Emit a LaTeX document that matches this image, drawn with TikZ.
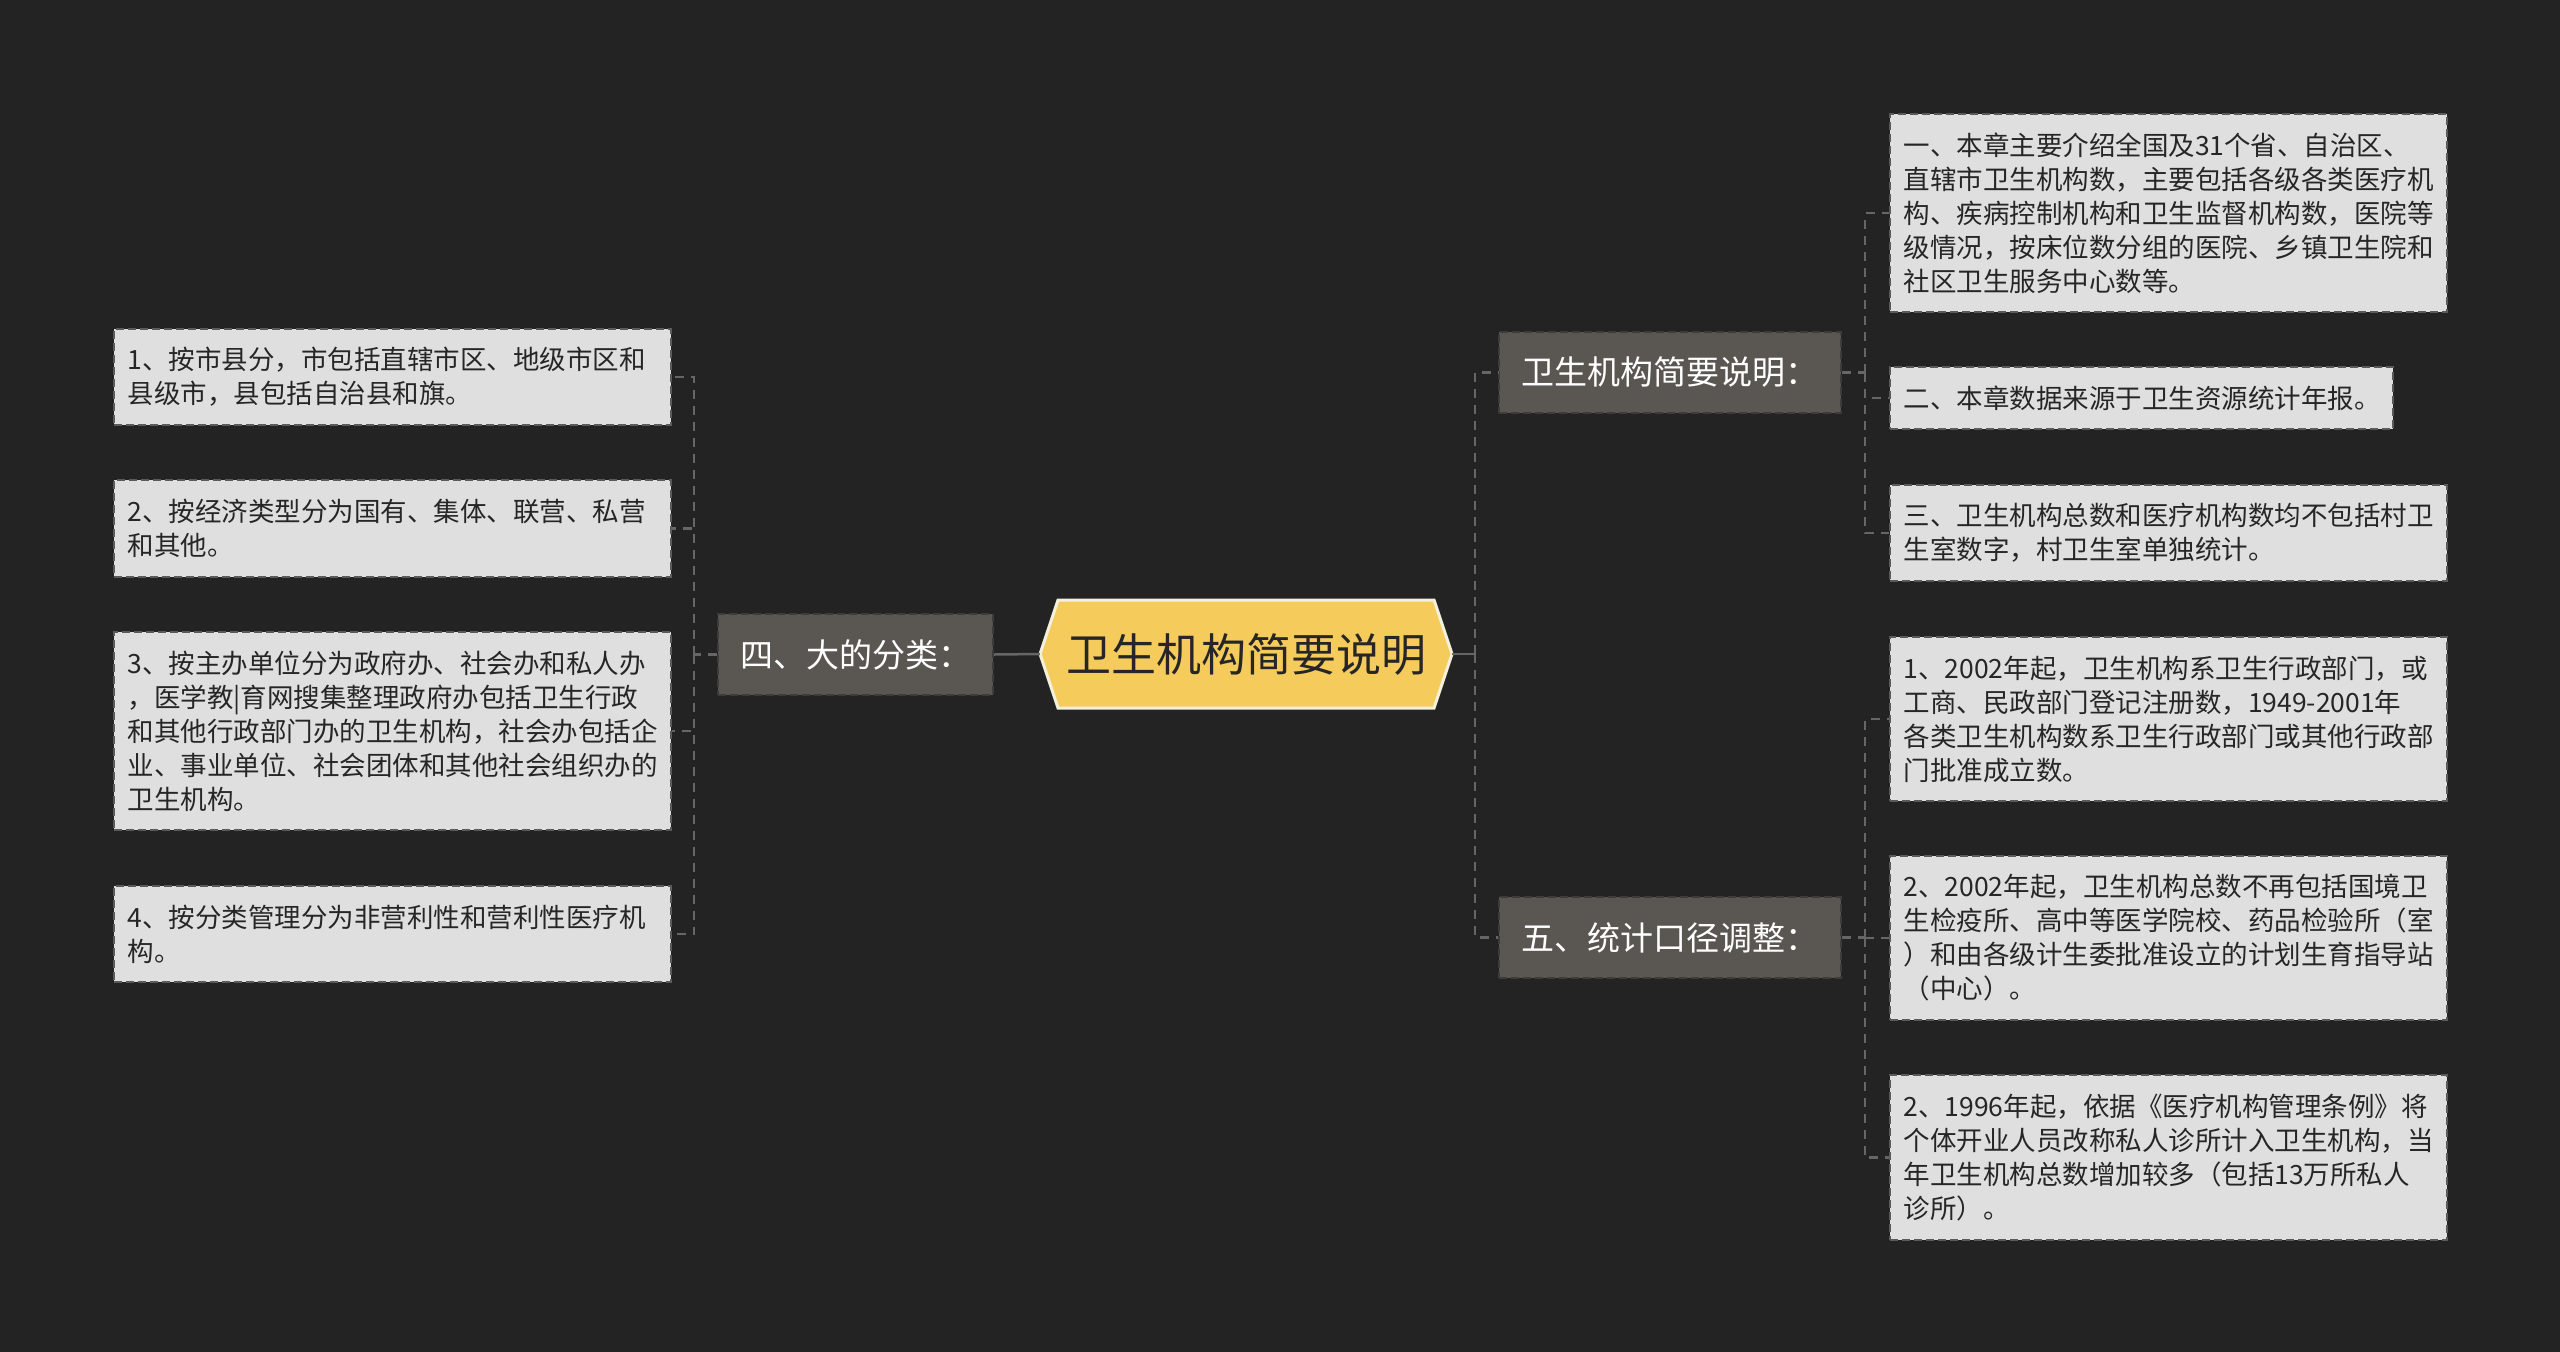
\documentclass[tikz,border=0pt]{standalone}
\usepackage{fontspec}
\newfontfamily\cjk{Noto Sans CJK SC}
\begin{document}
\begin{tikzpicture}[x=1pt,y=-1pt,
  leaf/.style={draw=leafline,fill=leaffill,line width=2pt,dash pattern=on 8pt off 4pt,
    anchor=north west,align=left,text width=530pt,inner xsep=13.5pt,inner ysep=0pt,
    text=black!85,font=\cjk\fontsize{26.5}{34}\selectfont},
  mid/.style={draw=midline,fill=midfill,line width=2pt,dash pattern=on 8pt off 4pt,
    minimum height=81pt,inner sep=0pt,text=white,font=\cjk\fontsize{33}{40}\selectfont},
  root/.style={minimum width=412pt,minimum height=108pt,inner sep=0pt,
    text=black!85,font=\cjk\fontsize{45}{50}\selectfont},
  link/.style={draw=linkgray,line width=2.5pt},
  branch/.style={link,dash pattern=on 9pt off 7pt}]
\definecolor{bgfill}{RGB}{35,35,35}
\definecolor{rootfill}{RGB}{245,203,92}
\definecolor{rootline}{RGB}{243,240,220}
\definecolor{midfill}{RGB}{90,86,82}
\definecolor{midline}{RGB}{62,60,58}
\definecolor{leaffill}{RGB}{223,223,223}
\definecolor{leafline}{RGB}{90,90,90}
\definecolor{linkgray}{RGB}{102,102,102}
\fill[bgfill] (0,0) rectangle (2560,1352);
% centre
\draw[fill=rootfill,draw=rootline,line width=3pt,shift={(1246,654)}]
  (-188,-54) -- (188,-54) -- (206,0) -- (188,54) -- (-188,54) -- (-206,0) -- cycle;
\node[root] (root) at (1246,654) {卫生机构简要说明};
% second level
\node[mid,minimum width=275pt] (kind) at (855.5,654.5) {四、大的分类：};
\node[mid,minimum width=342pt] (brief) at (1670,372.5) {卫生机构简要说明：};
\node[mid,minimum width=342pt] (adjust) at (1670,937.5) {五、统计口径调整：};
% left leaves
\node[leaf,minimum height=96pt] (c1) at (113,328) {1、按市县分，市包括直辖市区、地级市区和\\县级市，县包括自治县和旗。};
\node[leaf,minimum height=97pt] (c2) at (113,479) {2、按经济类型分为国有、集体、联营、私营\\和其他。};
\node[leaf,minimum height=198pt] (c3) at (113,631) {3、按主办单位分为政府办、社会办和私人办\\，医学教|育网搜集整理政府办包括卫生行政\\和其他行政部门办的卫生机构，社会办包括企\\业、事业单位、社会团体和其他社会组织办的\\卫生机构。};
\node[leaf,minimum height=96pt] (c4) at (113,885) {4、按分类管理分为非营利性和营利性医疗机\\构。};
% right leaves
\node[leaf,minimum height=198pt] (b1) at (1889,113) {一、本章主要介绍全国及31个省、自治区、\\直辖市卫生机构数，主要包括各级各类医疗机\\构、疾病控制机构和卫生监督机构数，医院等\\级情况，按床位数分组的医院、乡镇卫生院和\\社区卫生服务中心数等。};
\node[leaf,minimum height=62pt,text width=476pt] (b2) at (1889,366) {二、本章数据来源于卫生资源统计年报。};
\node[leaf,minimum height=96pt] (b3) at (1889,484) {三、卫生机构总数和医疗机构数均不包括村卫\\生室数字，村卫生室单独统计。};
\node[leaf,minimum height=164pt] (a1) at (1889,636) {1、2002年起，卫生机构系卫生行政部门，或\\工商、民政部门登记注册数，1949-2001年\\各类卫生机构数系卫生行政部门或其他行政部\\门批准成立数。};
\node[leaf,minimum height=164pt] (a2) at (1889,855) {2、2002年起，卫生机构总数不再包括国境卫\\生检疫所、高中等医学院校、药品检验所（室\\）和由各级计生委批准设立的计划生育指导站\\（中心）。};
\node[leaf,minimum height=165pt] (a3) at (1889,1074) {2、1996年起，依据《医疗机构管理条例》将\\个体开业人员改称私人诊所计入卫生机构，当\\年卫生机构总数增加较多（包括13万所私人\\诊所）。};
% connectors
\coordinate (lhub) at ([xshift=-23pt]kind.west);
\coordinate (rhub) at ([xshift=23pt]root.east);
\coordinate (bhub) at ([xshift=23pt]brief.east);
\coordinate (ahub) at ([xshift=23pt]adjust.east);
\draw[link] (root.west) -- (kind.east);
\draw[link] (root.east) -- (rhub);
\draw[branch] (kind.west) -- (lhub);
\foreach \n in {c1,c2,c3,c4} \draw[branch] (lhub) |- (\n.east);
\draw[branch] (rhub) |- (brief.west);
\draw[branch] (rhub) |- (adjust.west);
\draw[branch] (brief.east) -- (bhub);
\foreach \n in {b1,b2,b3} \draw[branch] (bhub) |- (\n.west);
\draw[branch] (adjust.east) -- (ahub);
\foreach \n in {a1,a2,a3} \draw[branch] (ahub) |- (\n.west);
\end{tikzpicture}
\end{document}
